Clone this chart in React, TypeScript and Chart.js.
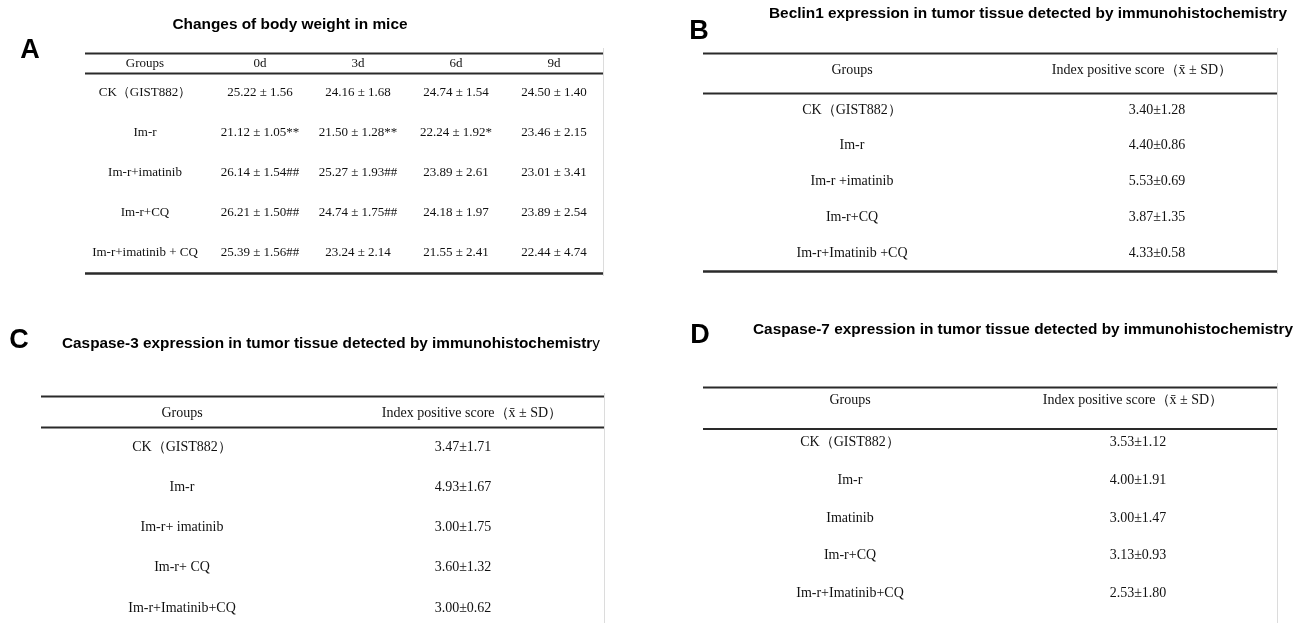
import React, { useEffect, useRef } from 'react';
import { Chart, registerables } from 'chart.js';

Chart.register(...registerables);

// ---------- Panel A: body weight ----------
const bwGroups = ['CK（GIST882）', 'Im-r', 'Im-r+imatinib', 'Im-r+CQ', 'Im-r+imatinib + CQ'];
const bwDays = ['0d', '3d', '6d', '9d'];
const bwMean0d = [25.22, 21.12, 26.14, 26.21, 25.39];
const bwSd0d = [1.56, 1.05, 1.54, 1.5, 1.56];
const bwMark0d = ['', '**', '##', '##', '##'];
const bwMean3d = [24.16, 21.5, 25.27, 24.74, 23.24];
const bwSd3d = [1.68, 1.28, 1.93, 1.75, 2.14];
const bwMark3d = ['', '**', '##', '##', ''];
const bwMean6d = [24.74, 22.24, 23.89, 24.18, 21.55];
const bwSd6d = [1.54, 1.92, 2.61, 1.97, 2.41];
const bwMark6d = ['', '*', '', '', ''];
const bwMean9d = [24.5, 23.46, 23.01, 23.89, 22.44];
const bwSd9d = [1.4, 2.15, 3.41, 2.54, 4.74];
const bwMark9d = ['', '', '', '', ''];

// ---------- Panel B: Beclin1 ----------
const scoreHeader = ['Index positive score（x\u0304 ± SD）'];
const beclinGroups = ['CK（GIST882）', 'Im-r', 'Im-r +imatinib', 'Im-r+CQ', 'Im-r+Imatinib +CQ'];
const beclinMean = [3.4, 4.4, 5.53, 3.87, 4.33];
const beclinSd = [1.28, 0.86, 0.69, 1.35, 0.58];

// ---------- Panel C: Caspase-3 ----------
const casp3Groups = ['CK（GIST882）', 'Im-r', 'Im-r+ imatinib', 'Im-r+ CQ', 'Im-r+Imatinib+CQ'];
const casp3Mean = [3.47, 4.93, 3.0, 3.6, 3.0];
const casp3Sd = [1.71, 1.67, 1.75, 1.32, 0.62];

// ---------- Panel D: Caspase-7 ----------
const casp7Groups = ['CK（GIST882）', 'Im-r', 'Imatinib', 'Im-r+CQ', 'Im-r+Imatinib+CQ'];
const casp7Mean = [3.53, 4.0, 3.0, 3.13, 2.53];
const casp7Sd = [1.12, 1.91, 1.47, 0.93, 1.8];

const fmtSpaced = (m: number[], s: number[], mk: string[]) =>
  m.map((v, i) => `${v.toFixed(2)} ± ${s[i].toFixed(2)}${mk[i]}`);
const fmtTight = (m: number[], s: number[]) => m.map((v, i) => `${v.toFixed(2)}±${s[i].toFixed(2)}`);

const SERIF = '"Liberation Serif", "Times New Roman", serif';
const SANS = '"Liberation Sans", Arial, sans-serif';

const tablePlugin = {
  id: 'tableDeco',
  afterDatasetsDraw(chart: any, _args: any, o: any) {
    const ctx = chart.ctx as CanvasRenderingContext2D;
    const area = chart.chartArea;
    const xs = chart.scales.x;
    const ys = chart.scales.y;
    ctx.save();

    // rules
    ctx.strokeStyle = '#2a2a2a';
    const hline = (y: number, w: number) => {
      ctx.lineWidth = w;
      ctx.beginPath();
      ctx.moveTo(o.tableLeft, y);
      ctx.lineTo(o.tableRight, y);
      ctx.stroke();
    };
    hline(o.topRuleY, 2);
    hline(area.top + o.headerRuleDy, 2);
    if (o.bottomRule) hline(area.bottom + 0.5, 2.5);

    // faint right border
    ctx.strokeStyle = '#dcdcdc';
    ctx.lineWidth = 1;
    ctx.beginPath();
    ctx.moveTo(o.tableRight + 0.5, o.borderTop);
    ctx.lineTo(o.tableRight + 0.5, o.bottomRule ? area.bottom + 3 : chart.height);
    ctx.stroke();

    // body text
    ctx.fillStyle = '#111';
    ctx.textAlign = 'center';
    ctx.textBaseline = 'middle';
    ctx.font = `${o.bodySize}px ${SERIF}`;
    ctx.fillText('Groups', o.groupX, o.headerY);
    xs.getLabels().forEach((lab: string, j: number) =>
      ctx.fillText(lab, xs.getPixelForValue(j) + o.headerDx, o.headerY)
    );
    ys.getLabels().forEach((g: string, i: number) => ctx.fillText(g, o.groupX, ys.getPixelForValue(i)));
    chart.data.datasets.forEach((ds: any, d: number) => {
      const meta = chart.getDatasetMeta(d);
      meta.data.forEach((pt: any, i: number) => ctx.fillText(ds.texts[i], pt.x, pt.y));
    });

    // title (scaled horizontally to the reference width)
    ctx.fillStyle = '#000';
    const bf = `bold 15px ${SANS}`;
    const nf = `15px ${SANS}`;
    ctx.font = bf;
    const w1 = ctx.measureText(o.titleBold).width;
    ctx.font = nf;
    const tail = o.titleTail || '';
    const w2 = tail ? ctx.measureText(tail).width : 0;
    const sc = o.titleWidth / (w1 + w2);
    ctx.save();
    ctx.translate(o.titleX - o.titleWidth / 2, o.titleY);
    ctx.scale(sc, 1);
    ctx.textAlign = 'left';
    ctx.font = bf;
    ctx.fillText(o.titleBold, 0, 0);
    if (tail) {
      ctx.font = nf;
      ctx.fillText(tail, w1, 0);
    }
    ctx.restore();

    // panel letter
    ctx.font = `bold 27px ${SANS}`;
    ctx.textAlign = 'center';
    ctx.fillText(o.letter, o.letterX, o.letterY);

    ctx.restore();
  },
};

type PanelProps = {
  left: number;
  top: number;
  width: number;
  height: number;
  xLabels: string[];
  groups: string[];
  columns: string[][];
  padding: { left: number; right: number; top: number; bottom: number };
  deco: any;
};

function TablePanel(p: PanelProps) {
  const ref = useRef<HTMLCanvasElement | null>(null);
  useEffect(() => {
    if (!ref.current) return;
    const datasets = p.columns.map((texts, j) => ({
      label: p.xLabels[j],
      data: p.groups.map((g) => ({ x: p.xLabels[j], y: g })),
      texts,
      showLine: false,
      pointRadius: 0,
      pointHoverRadius: 0,
    }));
    const chart = new Chart(ref.current, {
      type: 'line',
      data: { datasets: datasets as any },
      options: {
        animation: false,
        responsive: false,
        events: [],
        layout: { padding: p.padding },
        scales: {
          x: { type: 'category', labels: p.xLabels, offset: true, display: false },
          y: { type: 'category', labels: p.groups, offset: true, display: false },
        },
        plugins: {
          legend: { display: false },
          tooltip: { enabled: false },
          tableDeco: p.deco,
        } as any,
      },
      plugins: [tablePlugin as any],
    });
    return () => chart.destroy();
  }, []);
  return (
    <canvas
      ref={ref}
      width={p.width}
      height={p.height}
      style={{ position: 'absolute', left: p.left, top: p.top, width: p.width, height: p.height }}
    />
  );
}

export default function App() {
  return (
    <div
      style={{
        position: 'fixed',
        left: 0,
        top: 0,
        width: 1295,
        height: 623,
        overflow: 'hidden',
        background: '#fff',
      }}
    >
      <TablePanel
        left={0}
        top={0}
        width={647}
        height={300}
        xLabels={bwDays}
        groups={bwGroups}
        columns={[
          fmtSpaced(bwMean0d, bwSd0d, bwMark0d),
          fmtSpaced(bwMean3d, bwSd3d, bwMark3d),
          fmtSpaced(bwMean6d, bwSd6d, bwMark6d),
          fmtSpaced(bwMean9d, bwSd9d, bwMark9d),
        ]}
        padding={{ left: 211, right: 44, top: 72, bottom: 27 }}
        deco={{
          tableLeft: 85,
          tableRight: 603,
          topRuleY: 53.5,
          headerRuleDy: 1.5,
          bottomRule: true,
          borderTop: 48,
          headerY: 64,
          headerDx: 0,
          groupX: 145,
          bodySize: 13,
          titleBold: 'Changes of body weight in mice',
          titleTail: '',
          titleX: 290,
          titleY: 25,
          titleWidth: 235,
          letter: 'A',
          letterX: 30,
          letterY: 51,
        }}
      />
      <TablePanel
        left={647}
        top={0}
        width={648}
        height={300}
        xLabels={scoreHeader}
        groups={beclinGroups}
        columns={[fmtTight(beclinMean, beclinSd)]}
        padding={{ left: 390, right: 18, top: 92, bottom: 29 }}
        deco={{
          tableLeft: 56,
          tableRight: 630,
          topRuleY: 53.5,
          headerRuleDy: 1.5,
          bottomRule: true,
          borderTop: 48,
          headerY: 70,
          headerDx: -15,
          groupX: 205,
          bodySize: 14,
          titleBold: 'Beclin1 expression in tumor tissue detected by immunohistochemistry',
          titleTail: '',
          titleX: 381,
          titleY: 14,
          titleWidth: 518,
          letter: 'B',
          letterX: 52,
          letterY: 32,
        }}
      />
      <TablePanel
        left={0}
        top={300}
        width={647}
        height={340}
        xLabels={scoreHeader}
        groups={casp3Groups}
        columns={[fmtTight(casp3Mean, casp3Sd)]}
        padding={{ left: 322, right: 43, top: 127, bottom: 12 }}
        deco={{
          tableLeft: 41,
          tableRight: 604,
          topRuleY: 96.5,
          headerRuleDy: 0.5,
          bottomRule: true,
          borderTop: 93,
          headerY: 113,
          headerDx: 9,
          groupX: 182,
          bodySize: 14,
          titleBold: 'Caspase-3 expression in tumor tissue detected by immunohistochemistr',
          titleTail: 'y',
          titleX: 331,
          titleY: 44,
          titleWidth: 538,
          letter: 'C',
          letterX: 19,
          letterY: 41,
        }}
      />
      <TablePanel
        left={647}
        top={300}
        width={648}
        height={340}
        xLabels={scoreHeader}
        groups={casp7Groups}
        columns={[fmtTight(casp7Mean, casp7Sd)]}
        padding={{ left: 352, right: 18, top: 124, bottom: 28 }}
        deco={{
          tableLeft: 56,
          tableRight: 630,
          topRuleY: 87.5,
          headerRuleDy: 5,
          bottomRule: false,
          borderTop: 83,
          headerY: 100,
          headerDx: -5,
          groupX: 203,
          bodySize: 14,
          titleBold: 'Caspase-7 expression in tumor tissue detected by immunohistochemistry',
          titleTail: '',
          titleX: 376,
          titleY: 30,
          titleWidth: 540,
          letter: 'D',
          letterX: 53,
          letterY: 36,
        }}
      />
    </div>
  );
}
